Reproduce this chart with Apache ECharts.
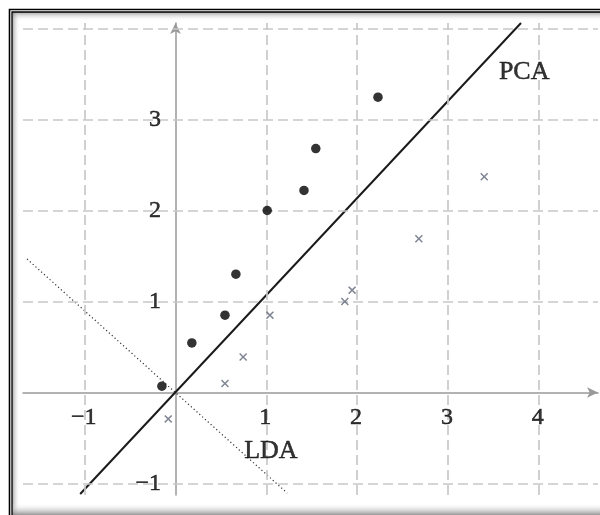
<!DOCTYPE html>
<html><head><meta charset="utf-8">
<script src="https://cdn.jsdelivr.net/npm/echarts@6/dist/echarts.min.js"></script>
<style>html,body{margin:0;padding:0;background:#fff}#c{width:600px;height:515px}</style>
</head><body><div id="c"></div>
<script>
// ---- data ----
const classAX = [-0.15, 0.18, 0.545, 0.665, 1.01, 1.415, 1.545, 2.23];
const classAY = [0.07, 0.545, 0.85, 1.30, 2.00, 2.22, 2.68, 3.245];
const classBX = [-0.08, 0.545, 0.745, 1.04, 1.865, 1.945, 2.68, 3.40];
const classBY = [-0.29, 0.10, 0.39, 0.85, 1.00, 1.125, 1.69, 2.37];
const pcaX = [-1.05, 3.805];
const pcaY = [-1.115, 4.06];
const ldaX = [-1.635, 1.23];
const ldaY = [1.467, -1.105];
const gridXs = [-1, 1, 2, 3, 4];
const gridYs = [-1, 1, 2, 3, 4];
const xTicks = [-1, 1, 2, 3, 4];
const xTickLabels = ['\u22121', '1', '2', '3', '4'];
const yTicks = [-1, 1, 2, 3];
const yTickLabels = ['\u22121', '1', '2', '3'];
const lineNames = ['PCA', 'LDA'];
const lineLabelX = [3.84, 1.05];
const lineLabelY = [3.52, -0.64];

const FONT = 'Liberation Serif';
const chart = echarts.init(document.getElementById('c'), null, {renderer: 'canvas'});
const zip = (a, b) => a.map((v, i) => [v, b[i]]);
const crossPath = 'path://M0,1.3L1.3,0L5,3.7L8.7,0L10,1.3L6.3,5L10,8.7L8.7,10L5,6.3L1.3,10L0,8.7L3.7,5Z';
const txt = (size) => ({fontFamily: FONT, fontSize: size, color: '#000', textBorderColor: '#000', textBorderWidth: 0.5});

const option = {
  backgroundColor: '#fff',
  animation: false,
  grid: {left: 23, top: 23, width: 575, height: 472, containLabel: false},
  xAxis: {
    type: 'value', min: -1.6795, max: 4.653,
    axisLine: {onZero: true, symbol: ['none', 'arrow'], symbolSize: [8, 11], lineStyle: {color: '#999', width: 1.5}},
    axisTick: {show: false}, axisLabel: {show: false}, splitLine: {show: false}
  },
  yAxis: {
    type: 'value', min: -1.126, max: 4.06,
    axisLine: {onZero: true, symbol: ['none', 'arrow'], symbolSize: [8, 11], lineStyle: {color: '#999', width: 1.5}},
    axisTick: {show: false}, axisLabel: {show: false}, splitLine: {show: false}
  },
  graphic: [
    {type: 'rect', shape: {x: 13, y: 12, width: 600, height: 9}, style: {fill: new echarts.graphic.LinearGradient(0, 0, 0, 1, [{offset: 0, color: 'rgba(110,110,110,0.65)'}, {offset: 1, color: 'rgba(255,255,255,0)'}])}, z: 100, silent: true},
    {type: 'rect', shape: {x: 12, y: 12, width: 8, height: 510}, style: {fill: new echarts.graphic.LinearGradient(0, 0, 1, 0, [{offset: 0, color: 'rgba(110,110,110,0.65)'}, {offset: 1, color: 'rgba(255,255,255,0)'}])}, z: 100, silent: true},
    {type: 'rect', shape: {x: 12, y: 503, width: 600, height: 12}, style: {fill: new echarts.graphic.LinearGradient(0, 0, 0, 1, [{offset: 0, color: 'rgba(255,255,255,0)'}, {offset: 1, color: 'rgba(130,130,130,0.85)'}])}, z: 100, silent: true},
    {type: 'polyline', shape: {points: [[9.5, 520], [9.5, 9.5], [610, 9.5]]}, style: {stroke: '#000', lineWidth: 1.6, fill: null}, z: 101, silent: true},
    {type: 'polyline', shape: {points: [[12, 520], [12, 12], [610, 12]]}, style: {stroke: '#000', lineWidth: 1.3, fill: null}, z: 101, silent: true}
  ],
  series: [
    {
      type: 'line', data: [], silent: true, z: 1,
      markLine: {
        silent: true, symbol: ['none', 'none'], label: {show: false},
        lineStyle: {color: '#c8c8c8', width: 1.7, type: [10, 5]},
        data: gridXs.map(v => ({xAxis: v})).concat(gridYs.map(v => ({yAxis: v})))
      }
    },
    {
      type: 'line', data: zip(ldaX, ldaY), symbol: 'none', z: 3,
      lineStyle: {color: '#333', width: 1.2, type: [1.2, 2.6]}
    },
    {
      type: 'line', data: zip(pcaX, pcaY), symbol: 'none', z: 4,
      lineStyle: {color: '#1a1a1a', width: 2}
    },
    {
      type: 'scatter', data: zip(classAX, classAY), symbol: 'circle', symbolSize: 9.5, z: 5,
      itemStyle: {color: '#000'}
    },
    {
      type: 'scatter', data: zip(classBX, classBY), symbol: crossPath, symbolSize: 8, z: 5,
      itemStyle: {color: '#5f6678'}
    },
    {
      type: 'scatter', data: xTicks.map(v => [v, 0]), symbolSize: 1, z: 6,
      itemStyle: {color: 'rgba(0,0,0,0)'},
      label: Object.assign({show: true, position: 'inside', offset: [-1, 25], formatter: p => xTickLabels[p.dataIndex]}, txt(24))
    },
    {
      type: 'scatter', data: yTicks.map(v => [0, v]), symbolSize: 1, z: 6,
      itemStyle: {color: 'rgba(0,0,0,0)'},
      label: Object.assign({show: true, position: 'left', distance: 14, formatter: p => yTickLabels[p.dataIndex]}, txt(24))
    },
    {
      type: 'scatter', data: zip(lineLabelX, lineLabelY), symbolSize: 1, z: 6,
      itemStyle: {color: 'rgba(0,0,0,0)'},
      label: Object.assign({show: true, position: 'inside', formatter: p => lineNames[p.dataIndex]}, txt(26))
    }
  ]
};
chart.setOption(option);
</script>
</body></html>
